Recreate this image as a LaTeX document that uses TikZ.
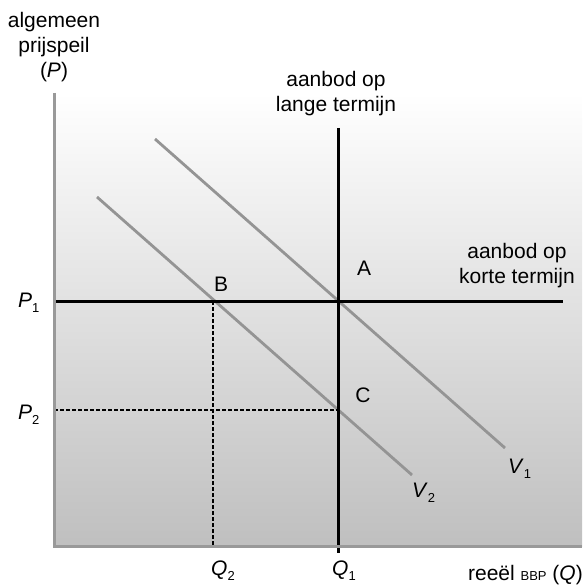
\documentclass[tikz,border=0pt]{standalone}
\usepackage{fontspec}
\setmainfont{Liberation Sans}
\newcommand\lowidx[1]{\raisebox{-5pt}{\fontsize{13}{13}\selectfont #1}}
\begin{document}
\begin{tikzpicture}[x=1pt, y=-1pt,
        lbl/.style={font=\fontsize{21}{25}\selectfont, align=center, inner sep=0pt},
        axis/.style={draw=black!40, line width=3pt, line join=miter},
        demand/.style={draw=black!42, line width=2.8pt},
        supply/.style={draw=black, line width=3pt},
        guide/.style={draw=black, line width=2.8pt, dash pattern=on 3.5pt off 2.5pt}
    ]
    \useasboundingbox (0,0) rectangle (585,588);
    \shade[top color=white, middle color=gray!15, bottom color=gray!50] (54,93) rectangle (582,546);

    \coordinate (ytop) at (54,93);
    \coordinate (org)  at (54,546);
    \coordinate (xend) at (582,546);
    \coordinate (lrastop) at (338,128);
    \coordinate (lrasbot) at (338,553);
    \coordinate (srasbeg) at (54,301);
    \coordinate (srasend) at (563,301);
    \coordinate (v1beg) at (155,139);
    \coordinate (v1end) at (505,448);
    \coordinate (v2beg) at (97,197);
    \coordinate (v2end) at (412,475);
    \coordinate (ptA) at (338,301);
    \coordinate (ptB) at (213,301);
    \coordinate (ptC) at (338,410);
    \coordinate (p2) at (54,410);
    \coordinate (q2) at (213,546);

    \draw[demand] (v1beg) -- (v1end);
    \draw[demand] (v2beg) -- (v2end);
    \draw[guide] (p2) -- (ptC);
    \draw[guide] (ptB) -- (q2);
    \draw[supply] (srasbeg) -- (srasend);
    \draw[supply] (lrastop) -- (lrasbot);
    \draw[axis] (ytop) -- (org) -- (xend);

    \node[lbl] (ytitle) at (54,47)   {algemeen\\prijspeil\\(\textit{P})};
    \node[lbl] (lras)   at (336,94)  {aanbod op\\lange termijn};
    \node[lbl] (sras)   at (517,266) {aanbod op\\korte termijn};
    \node[lbl] (lblA)   at (364,268) {A};
    \node[lbl] (lblB)   at (221,284) {B};
    \node[lbl] (lblC)   at (363,395) {C};
    \node[lbl, anchor=base west] (lblP1) at (18,307) {\textit{P}\lowidx{1}};
    \node[lbl, anchor=base west] (lblP2) at (18,419) {\textit{P}\lowidx{2}};
    \node[lbl, anchor=base west] (lblQ2) at (211,575) {\textit{Q}\lowidx{2}};
    \node[lbl, anchor=base west] (lblQ1) at (332,575) {\textit{Q}\lowidx{1}};
    \node[lbl, anchor=base west] (lblV1) at (508,473) {\textit{V}\lowidx{1}};
    \node[lbl, anchor=base west] (lblV2) at (412,497) {\textit{V}\lowidx{2}};
    \node[lbl, anchor=base east] (xtitle) at (583,580) {reeël {\fontsize{13}{13}\selectfont BBP} (\textit{Q})};
\end{tikzpicture}
\end{document}
